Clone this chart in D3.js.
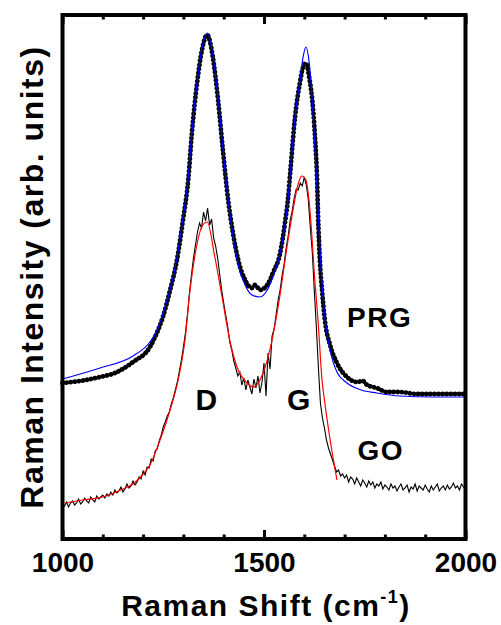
<!DOCTYPE html>
<html lang="en">
<head>
    <meta charset="UTF-8">
    <title>Raman spectra PRG / GO</title>
    <style type="text/css">
        body { margin: 0; background: #fff; }
        text { font-family: "Liberation Sans", Arial, Helvetica, sans-serif; font-weight: bold; fill: #000; }
        .frame { fill: none; stroke: #000; stroke-width: 4; }
        .tick line { stroke: #000; stroke-width: 3; }
        .domain { display: none; }
        .title, .label { letter-spacing: 1.5px; }
        /* PRG data shown as dense dots: round caps on a dashed path */
        .prg { fill: none; stroke: #000; stroke-width: 4.8; stroke-linecap: round; stroke-dasharray: 0.1 4; }
        .prgfit { fill: none; stroke: #0000ff; stroke-width: 1.2; }
        .go { fill: none; stroke: #000; stroke-width: 1.1; }
        .gofit { fill: none; stroke: #ff0000; stroke-width: 1.2; }
    </style>
</head>
<body>
    <svg></svg>

    <script src="https://d3js.org/d3.v7.min.js"></script>
    <script>

        // PRG spectrum (Raman shift, intensity in arb. units)
        var prgShift = [1000, 1043, 1093, 1130, 1175, 1217, 1234, 1249, 1267, 1284, 1299, 1312, 1321, 1334, 1346, 1359,
            1373, 1386, 1398, 1411, 1423, 1436, 1453, 1470, 1478, 1490, 1508, 1522, 1540, 1552, 1560, 1565, 1577,
            1589, 1597, 1604, 1612, 1622, 1627, 1632, 1634, 1639, 1644, 1651, 1664, 1681, 1706, 1731, 1745, 1756,
            1780, 1805, 1837, 1879, 1919, 2000];
        var prgValue = [156, 158, 162, 166, 177, 192, 206, 222, 249, 279, 319, 359, 406, 456, 489, 504,
            482, 439, 389, 339, 306, 279, 259, 251, 254, 249, 254, 266, 286, 316, 342, 366, 422,
            456, 472, 476, 462, 429, 399, 356, 326, 276, 249, 219, 194, 176, 162, 157, 158, 154,
            151, 147, 147, 145, 145, 145];

        // PRG fit (blue)
        var prgFitShift = [1000, 1093, 1175, 1217, 1234, 1249, 1267, 1284, 1299, 1312, 1321, 1334, 1346, 1359, 1373,
            1386, 1398, 1411, 1423, 1436, 1453, 1470, 1490, 1508, 1522, 1540, 1552, 1560, 1565, 1577, 1589, 1597,
            1604, 1612, 1622, 1632, 1639, 1651, 1664, 1681, 1706, 1741, 1780, 1837, 1919, 2000];
        var prgFitValue = [160, 171, 183, 197, 208, 225, 249, 281, 321, 361, 407, 457, 491, 506, 484,
            441, 391, 339, 303, 274, 254, 244, 242, 249, 262, 286, 314, 341, 366, 422, 458, 482,
            492, 477, 424, 349, 289, 222, 189, 167, 156, 149, 146, 143, 142, 142];

        // GO spectrum, one value every 5 cm-1 from 1000 to 2000
        var goStart = 1000, goStep = 5;
        var goValue = [
            35, 33, 37, 32, 36, 38, 34, 36, 40, 35, 37, 41, 38, 36, 42, 39, 37, 43, 40, 42,
            44, 41, 45, 43, 47, 44, 49, 46, 48, 52, 47, 50, 55, 51, 53, 58, 54, 57, 62, 60,
            68, 64, 72, 71, 80, 78, 88, 90, 98, 104, 112, 117, 123, 127, 135, 141, 149, 157, 168, 179,
            192, 206, 224, 246, 264, 281, 294, 307, 316, 311, 327, 318, 331, 314, 320, 301, 293, 281, 265, 249,
            236, 224, 212, 197, 189, 178, 171, 163, 167, 154, 161, 149, 159, 152, 145, 160, 151, 163, 146, 157,
            176, 143, 186, 170, 203, 210, 224, 239, 249, 264, 275, 291, 303, 319, 328, 341, 350, 349, 356, 353,
            362, 354, 339, 311, 286, 247, 211, 171, 136, 121, 111, 99, 91, 85, 79, 73, 67, 69, 63, 65,
            61, 64, 57, 62, 60, 55, 61, 57, 53, 59, 56, 52, 58, 54, 57, 51, 55, 53, 57, 50,
            54, 52, 49, 55, 51, 53, 48, 52, 55, 49, 51, 54, 47, 52, 50, 55, 48, 53, 51, 49,
            54, 50, 47, 53, 49, 52, 55, 48, 51, 53, 49, 54, 50, 52, 56, 51, 53, 49, 55, 52,
            49];

        // GO fit (red)
        var goFitShift = [1006, 1050, 1100, 1150, 1175, 1200, 1217, 1242, 1267, 1287, 1304, 1316, 1331, 1348, 1359,
            1378, 1396, 1415, 1433, 1458, 1473, 1490, 1503, 1520, 1539, 1557, 1572, 1584, 1594, 1604, 1614,
            1626, 1634, 1644, 1651, 1663, 1681];
        var goFitValue = [36, 39, 42, 50, 55, 65, 74, 99, 129, 159, 199, 247, 289, 314, 317,
            282, 242, 199, 172, 156, 152, 159, 172, 199, 242, 292, 329, 354, 363, 359, 329,
            259, 219, 159, 136, 102, 59];

        var majorTicks = [1000, 1500, 2000];
        var minorTicks = [1100, 1200, 1300, 1400, 1600, 1700, 1800, 1900];

        var labels = [
            { text: "PRG", shift: 1706, value: 212 },
            { text: "D", shift: 1330, value: 129 },
            { text: "G", shift: 1557, value: 129 },
            { text: "GO", shift: 1732, value: 79 }
        ];

        var svgWidth = 501
        var svgHeight = 625
        var plotLeft = 62.5, plotRight = 465.5, plotTop = 15, plotBottom = 539

        var svg = d3.select('svg')
            .attr("width", svgWidth)
            .attr("height", svgHeight)

        var x = d3.scaleLinear().domain([1000, 2000]).range([plotLeft, plotRight])
        var y = d3.scaleLinear().domain([0, 524]).range([plotBottom, plotTop])

        function pairs(xs, ys) {
            return xs.map(function(d, i) { return [d, ys[i]] })
        }

        var smooth = d3.line()
            .x(function(d) { return x(d[0]) })
            .y(function(d) { return y(d[1]) })
            .curve(d3.curveMonotoneX)

        var raw = d3.line()
            .x(function(d) { return x(d[0]) })
            .y(function(d) { return y(d[1]) })

        var goData = goValue.map(function(v, i) { return [goStart + i * goStep, v] })

        svg.append("path").attr("class", "go").attr("d", raw(goData))
        svg.append("path").attr("class", "gofit").attr("d", smooth(pairs(goFitShift, goFitValue)))
        svg.append("path").attr("class", "prg").attr("d", smooth(pairs(prgShift, prgValue)))
        svg.append("path").attr("class", "prgfit").attr("d", smooth(pairs(prgFitShift, prgFitValue)))

        // ticks pointing inward, bottom and top
        svg.append("g").attr("transform", "translate(0," + plotBottom + ")")
            .call(d3.axisBottom(x).tickValues(minorTicks).tickSize(-4.5).tickFormat(""))
        svg.append("g").attr("transform", "translate(0," + plotBottom + ")")
            .call(d3.axisBottom(x).tickValues(majorTicks).tickSize(-9).tickFormat(""))
        svg.append("g").attr("transform", "translate(0," + plotTop + ")")
            .call(d3.axisTop(x).tickValues(minorTicks).tickSize(-4.5).tickFormat(""))
        svg.append("g").attr("transform", "translate(0," + plotTop + ")")
            .call(d3.axisTop(x).tickValues(majorTicks).tickSize(-9).tickFormat(""))

        // tick labels
        var xLabels = svg.append("g").attr("transform", "translate(0," + plotBottom + ")")
            .call(d3.axisBottom(x).tickValues(majorTicks).tickSize(0).tickPadding(13).tickFormat(d3.format("d")))
        xLabels.selectAll("text").style("font-size", "28px")
        xLabels.selectAll("line").remove()

        svg.append("rect").attr("class", "frame")
            .attr("x", plotLeft).attr("y", plotTop)
            .attr("width", plotRight - plotLeft).attr("height", plotBottom - plotTop)

        // axis titles
        var xTitle = svg.append("text")
            .attr("class", "title")
            .attr("x", 266)
            .attr("y", 616)
            .attr("text-anchor", "middle")
            .style("font-size", "30px")
        xTitle.append("tspan").text("Raman Shift (cm")
        xTitle.append("tspan").text("-1").attr("dy", -13).style("font-size", "18px")
        xTitle.append("tspan").text(")").attr("dy", 13)

        svg.append("text")
            .attr("class", "title")
            .attr("transform", "translate(43,277) rotate(-90)")
            .attr("text-anchor", "middle")
            .style("font-size", "32px")
            .text("Raman Intensity (arb. units)")

        svg.selectAll(".label")
            .data(labels)
            .enter()
            .append("text")
            .attr("class", "label")
            .attr("x", function(d) { return x(d.shift) })
            .attr("y", function(d) { return y(d.value) })
            .style("font-size", function(d) { return d.text.length == 1 ? "30px" : "28px" })
            .text(function(d) { return d.text })

    </script>
</body>
</html>
